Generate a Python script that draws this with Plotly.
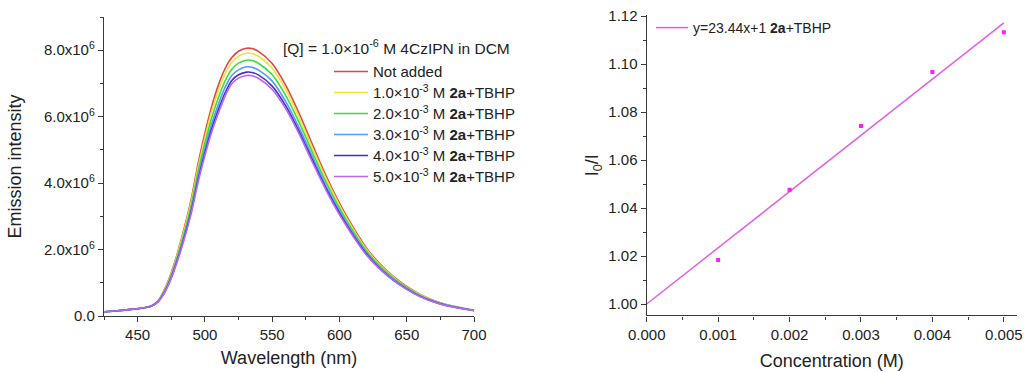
import plotly.graph_objects as go

# ---- Emission spectra of 4CzIPN (1.0e-6 M in DCM), intensity in units of 1e6 ----
wavelength = [425, 435, 445, 455, 460, 465, 470, 475, 480, 485, 490, 495, 500, 505,
              510, 515, 520, 525, 531, 535, 540, 550, 560, 570, 580, 590, 600, 610,
              620, 630, 640, 650, 660, 670, 680, 690, 700]

not_added = [0.13, 0.16, 0.20, 0.25, 0.30, 0.45, 0.80, 1.30, 1.95, 2.70, 3.55, 4.60, 5.50, 6.30,
             6.95, 7.45, 7.78, 7.97, 8.06, 8.05, 7.96, 7.60, 6.95, 6.10, 5.15, 4.22, 3.40, 2.68,
             2.05, 1.57, 1.19, 0.89, 0.65, 0.47, 0.34, 0.25, 0.17]
q_1mM = [0.13, 0.16, 0.20, 0.25, 0.30, 0.445, 0.78, 1.27, 1.91, 2.64, 3.47, 4.49, 5.37, 6.16,
         6.79, 7.29, 7.63, 7.82, 7.91, 7.90, 7.81, 7.46, 6.82, 5.98, 5.05, 4.14, 3.34, 2.63,
         2.01, 1.54, 1.17, 0.87, 0.64, 0.46, 0.335, 0.25, 0.17]
q_2mM = [0.13, 0.16, 0.20, 0.25, 0.296, 0.44, 0.757, 1.23, 1.845, 2.55, 3.36, 4.35, 5.20, 5.96,
         6.57, 7.08, 7.43, 7.61, 7.70, 7.69, 7.60, 7.26, 6.64, 5.83, 4.92, 4.03, 3.25, 2.56,
         1.96, 1.50, 1.14, 0.85, 0.62, 0.45, 0.33, 0.245, 0.17]
q_3mM = [0.13, 0.16, 0.20, 0.25, 0.294, 0.43, 0.733, 1.19, 1.79, 2.47, 3.25, 4.21, 5.04, 5.77,
         6.37, 6.88, 7.24, 7.41, 7.50, 7.49, 7.40, 7.07, 6.46, 5.67, 4.79, 3.92, 3.16, 2.49,
         1.91, 1.46, 1.11, 0.83, 0.60, 0.44, 0.32, 0.24, 0.165]
q_4mM = [0.13, 0.16, 0.20, 0.25, 0.292, 0.426, 0.714, 1.16, 1.74, 2.41, 3.17, 4.11, 4.91, 5.63,
         6.21, 6.72, 7.09, 7.26, 7.34, 7.33, 7.25, 6.92, 6.33, 5.56, 4.69, 3.84, 3.10, 2.44,
         1.87, 1.43, 1.08, 0.81, 0.59, 0.43, 0.31, 0.235, 0.165]
q_5mM = [0.13, 0.16, 0.20, 0.25, 0.29, 0.42, 0.70, 1.14, 1.71, 2.37, 3.12, 4.04, 4.83, 5.53,
         6.10, 6.62, 6.99, 7.16, 7.24, 7.23, 7.15, 6.82, 6.24, 5.48, 4.62, 3.79, 3.05, 2.41,
         1.84, 1.41, 1.07, 0.80, 0.58, 0.42, 0.305, 0.23, 0.16]

series_names = ["Not added",
                "1.0\u00d710<sup>-3</sup> M <b>2a</b>+TBHP",
                "2.0\u00d710<sup>-3</sup> M <b>2a</b>+TBHP",
                "3.0\u00d710<sup>-3</sup> M <b>2a</b>+TBHP",
                "4.0\u00d710<sup>-3</sup> M <b>2a</b>+TBHP",
                "5.0\u00d710<sup>-3</sup> M <b>2a</b>+TBHP"]
series_colors = ["#e2463f", "#f2e23c", "#3fdc3f", "#4d9ff0", "#4a2ad2", "#b866f4"]

spec_ticks = [0, 2e6, 4e6, 6e6, 8e6]
spec_ticktext = ["0.0", "2.0x10<sup>6</sup>", "4.0x10<sup>6</sup>",
                 "6.0x10<sup>6</sup>", "8.0x10<sup>6</sup>"]

# ---- Stern-Volmer data ----
concentration = [0.001, 0.002, 0.003, 0.004, 0.005]
i0_over_i = [1.0184, 1.0476, 1.0742, 1.0967, 1.1133]
fit_slope = 23.44
fit_intercept = 1.0
fit_x_ends = [0.0, 0.005]

FONT = "Liberation Sans, Arial, sans-serif"
AXIS_COLOR = "#3a3a3a"
TEXT_COLOR = "#222222"

fig = go.Figure()

spectra = [not_added, q_1mM, q_2mM, q_3mM, q_4mM, q_5mM]
for name, vals, color in zip(series_names, spectra, series_colors):
    fig.add_trace(go.Scatter(
        x=wavelength, y=[v * 1e6 for v in vals], mode="lines",
        line=dict(color=color, width=1.6, shape="spline", smoothing=0.8),
        name='<span style="font-size:15px">' + name + "</span>",
        xaxis="x", yaxis="y", legend="legend"))

fig.add_trace(go.Scatter(
    x=fit_x_ends, y=[fit_intercept + fit_slope * x for x in fit_x_ends],
    mode="lines", line=dict(color="#e061e0", width=1.5),
    name="y=23.44x+1 <b>2a</b>+TBHP", xaxis="x2", yaxis="y2", legend="legend2"))
fig.add_trace(go.Scatter(
    x=concentration, y=i0_over_i, mode="markers",
    marker=dict(color="#ff1aff", size=4, symbol="square"),
    showlegend=False, xaxis="x2", yaxis="y2"))

W, H = 1024, 372
def px_x(p):
    return p / W
def px_y(p):
    return 1 - p / H

axis_common = dict(
    showline=True, linecolor=AXIS_COLOR, linewidth=1.4, ticks="outside",
    ticklen=5, tickwidth=1.2, tickcolor=AXIS_COLOR, showgrid=False, zeroline=False,
    automargin=False,
    tickfont=dict(family=FONT, size=15, color=TEXT_COLOR),
    title_font=dict(family=FONT, size=18, color=TEXT_COLOR),
)

fig.update_layout(
    width=W, height=H, margin=dict(l=0, r=0, t=0, b=0, autoexpand=False),
    paper_bgcolor="white", plot_bgcolor="white",
    font=dict(family=FONT, color=TEXT_COLOR),
    xaxis=dict(domain=[px_x(104), px_x(474)], range=[425, 700], anchor="y",
               tickmode="linear", tick0=450, dtick=50,
               minor=dict(ticks="outside", ticklen=3, tickcolor=AXIS_COLOR, dtick=25, tick0=425),
               title=dict(text="Wavelength (nm)", standoff=9), **axis_common),
    yaxis=dict(domain=[px_y(316), px_y(17)], range=[0, 9.0e6], anchor="x",
               tickvals=spec_ticks, ticktext=spec_ticktext,
               minor=dict(ticks="outside", ticklen=3, tickcolor=AXIS_COLOR, dtick=1e6, tick0=0),
               title=dict(text="Emission intensity", standoff=17), **axis_common),
    xaxis2=dict(domain=[px_x(646.7), px_x(1016.7)], range=[0, 0.00518], anchor="y2",
                tickmode="linear", tick0=0, dtick=0.001, tickformat=".3f",
                minor=dict(ticks="outside", ticklen=3, tickcolor=AXIS_COLOR, dtick=0.0005, tick0=0),
                title=dict(text="Concentration (M)", standoff=12), **axis_common),
    yaxis2=dict(domain=[px_y(315.3), px_y(15)], range=[0.9953, 1.1205], anchor="x2",
                tickmode="linear", tick0=1.0, dtick=0.02, tickformat=".2f",
                minor=dict(ticks="outside", ticklen=3, tickcolor=AXIS_COLOR, dtick=0.01, tick0=1.0),
                title=dict(text="I<sub>0</sub>/I", standoff=4), **axis_common),
    legend=dict(x=px_x(329), y=px_y(56), xanchor="left", yanchor="top",
                bgcolor="rgba(0,0,0,0)", borderwidth=0, itemwidth=34,
                font=dict(family=FONT, size=13.85, color=TEXT_COLOR),
                itemclick=False, itemdoubleclick=False),
    legend2=dict(x=px_x(651), y=px_y(12), xanchor="left", yanchor="top",
                 bgcolor="rgba(0,0,0,0)", borderwidth=0, itemwidth=32,
                 font=dict(family=FONT, size=14, color=TEXT_COLOR)),
    annotations=[dict(
        text="[Q] = 1.0\u00d710<sup>-6</sup> M 4CzIPN in DCM",
        xref="paper", yref="paper", x=px_x(281), y=px_y(47),
        xanchor="left", yanchor="middle", showarrow=False,
        font=dict(family=FONT, size=15.5, color=TEXT_COLOR))],
)

fig.write_html("out.html")
